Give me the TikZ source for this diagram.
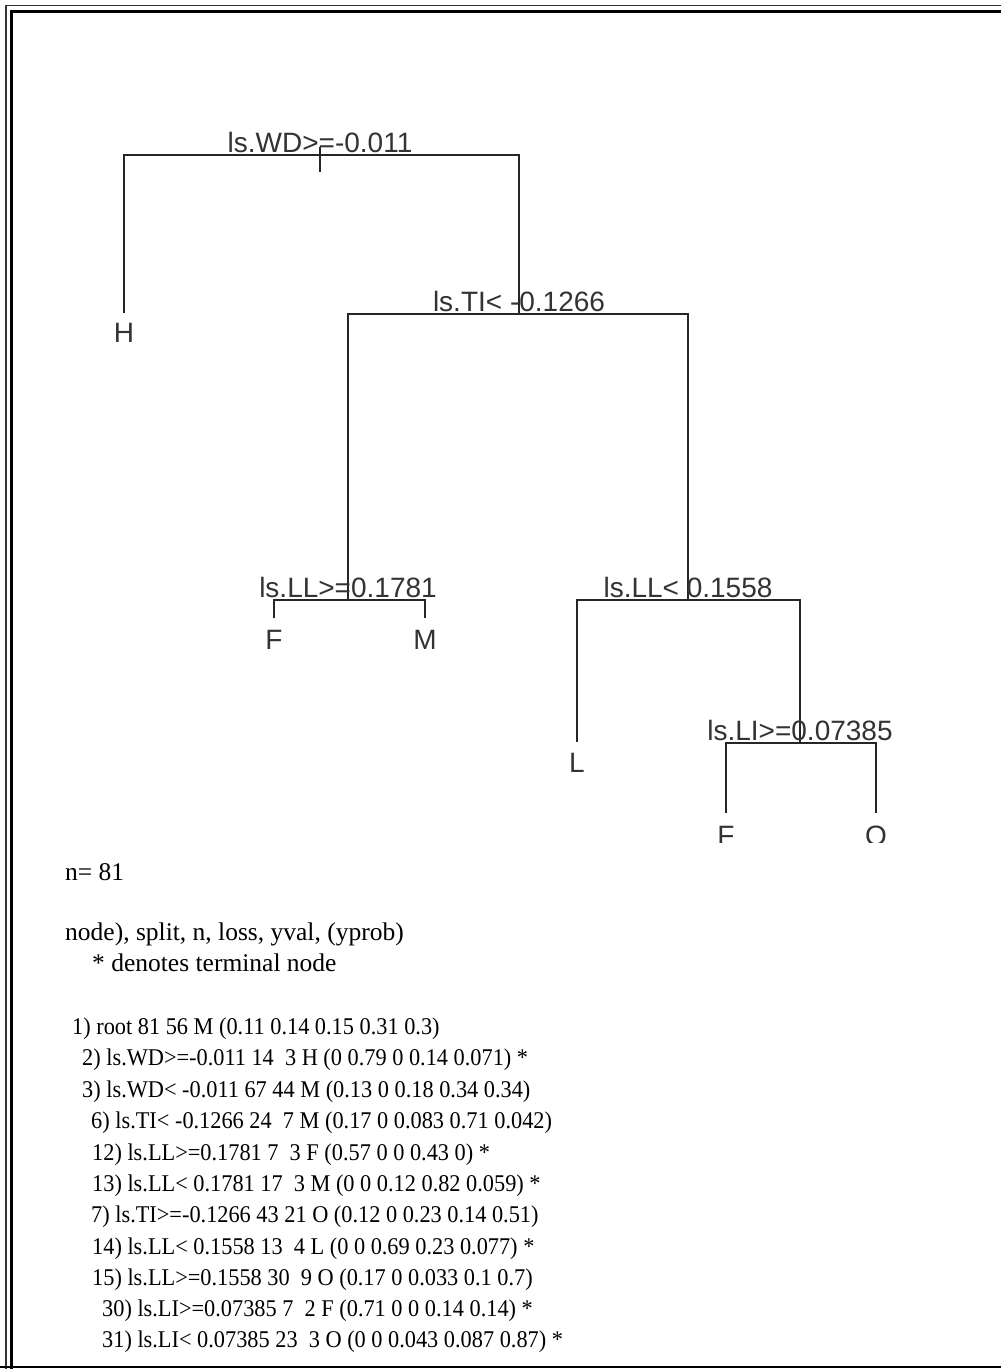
\documentclass[tikz,border=0pt]{standalone}
\usepackage{fontspec}
\setmainfont{Liberation Serif}
\newfontfamily\treefont{Liberation Sans}
\newfontfamily\listfont[FakeStretch=0.93]{Liberation Serif}
\begin{document}
\begin{tikzpicture}[x=1pt,y=-1pt,
  treeline/.style={line width=1.8pt,draw=black!85},
  splitlab/.style={anchor=base,inner sep=0pt,font=\treefont\fontsize{28}{32}\selectfont,text=black!80},
  leaflab/.style={anchor=base,inner sep=0pt,font=\treefont\fontsize{28}{32}\selectfont,text=black!80},
  headtxt/.style={anchor=base west,inner sep=0pt,font=\fontsize{25.5}{28}\selectfont},
  outtxt/.style={anchor=base west,inner sep=0pt,font=\listfont\fontsize{24}{28}\selectfont}]
\useasboundingbox (0,0) rectangle (1001,1369);
\fill[white] (0,0) rectangle (1001,1369);
% frame
\draw[line width=1.5pt,black!80] (6,1369) -- (6,5.5) -- (1001,5.5);
\draw[line width=3pt] (11,1369) -- (11,11) -- (1001,11);
\draw[line width=2pt] (0,1367) -- (1001,1367);
% tree coordinates
\coordinate (n1) at (320,155);
\coordinate (stubA) at (320,147);
\coordinate (stubB) at (320,172);
\coordinate (lH) at (124,313);
\coordinate (n3) at (519,314);
\coordinate (n6) at (348,600);
\coordinate (lF1) at (274,618);
\coordinate (lM) at (425,618);
\coordinate (n7) at (688,600);
\coordinate (lL) at (577,742);
\coordinate (n15) at (800,743);
\coordinate (lF2) at (726,813);
\coordinate (lO) at (876,813);
% branches
\draw[treeline] (lH) |- (n1) -| (n3);
\draw[treeline] (stubA) -- (stubB);
\draw[treeline] (n6) |- (n3) -| (n7);
\draw[treeline] (lF1) |- (n6) -| (lM);
\draw[treeline] (lL) |- (n7) -| (n15);
\draw[treeline] (lF2) |- (n15) -| (lO);
% split labels
\node[splitlab] (s1) at ([yshift=3pt]n1) {ls.WD>=-0.011};
\node[splitlab] (s3) at ([yshift=3pt]n3) {ls.TI< -0.1266};
\node[splitlab] (s6) at ([yshift=3pt]n6) {ls.LL>=0.1781};
\node[splitlab] (s7) at ([yshift=3pt]n7) {ls.LL< 0.1558};
\node[splitlab] (s15) at ([yshift=3pt]n15) {ls.LI>=0.07385};
% leaf labels
\node[leaflab] (tH) at ([yshift=-29pt]lH) {H};
\node[leaflab] (tF1) at ([yshift=-31pt]lF1) {F};
\node[leaflab] (tM) at ([yshift=-31pt]lM) {M};
\node[leaflab] (tL) at ([yshift=-30pt]lL) {L};
\begin{scope}
\clip (0,0) rectangle (1001,842);
\node[leaflab] (tF2) at ([yshift=-32pt]lF2) {F};
\node[leaflab] (tO) at ([yshift=-32pt]lO) {O};
\end{scope}
% printed output
\node[headtxt] (t0) at (65,880) {n= 81};
\node[headtxt] (t1) at (65,940) {node), split, n, loss, yval, (yprob)};
\node[headtxt] (t2) at (92,971) {* denotes terminal node};
\node[outtxt] (r1) at (72,1034) {1) root 81 56 M (0.11 0.14 0.15 0.31 0.3)};
\node[outtxt] (r2) at (82,1065) {2) ls.WD>=-0.011 14\ \ 3 H (0 0.79 0 0.14 0.071) *};
\node[outtxt] (r3) at (82,1097) {3) ls.WD< -0.011 67 44 M (0.13 0 0.18 0.34 0.34)};
\node[outtxt] (r6) at (91,1128) {6) ls.TI< -0.1266 24\ \ 7 M (0.17 0 0.083 0.71 0.042)};
\node[outtxt] (r12) at (92,1160) {12) ls.LL>=0.1781 7\ \ 3 F (0.57 0 0 0.43 0) *};
\node[outtxt] (r13) at (92,1191) {13) ls.LL< 0.1781 17\ \ 3 M (0 0 0.12 0.82 0.059) *};
\node[outtxt] (r7) at (91,1222) {7) ls.TI>=-0.1266 43 21 O (0.12 0 0.23 0.14 0.51)};
\node[outtxt] (r14) at (92,1254) {14) ls.LL< 0.1558 13\ \ 4 L (0 0 0.69 0.23 0.077) *};
\node[outtxt] (r15) at (92,1285) {15) ls.LL>=0.1558 30\ \ 9 O (0.17 0 0.033 0.1 0.7)};
\node[outtxt] (r30) at (102,1316) {30) ls.LI>=0.07385 7\ \ 2 F (0.71 0 0 0.14 0.14) *};
\node[outtxt] (r31) at (102,1347) {31) ls.LI< 0.07385 23\ \ 3 O (0 0 0.043 0.087 0.87) *};
\end{tikzpicture}
\end{document}
